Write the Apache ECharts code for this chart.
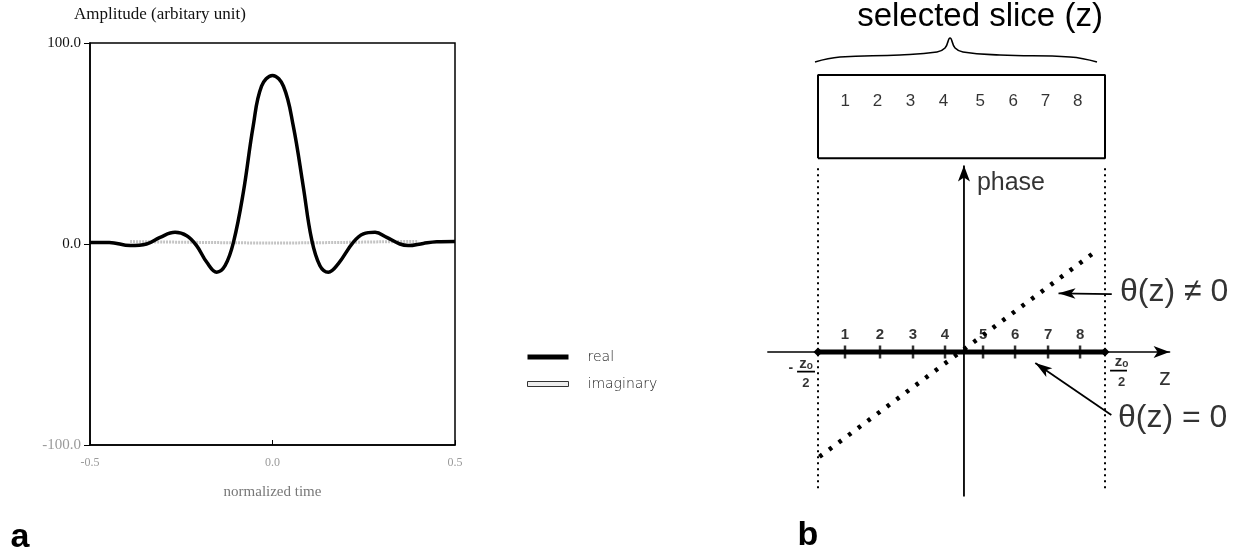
<!DOCTYPE html>
<html>
<head>
<meta charset="utf-8">
<script src="https://cdn.jsdelivr.net/npm/echarts@6/dist/echarts.min.js"></script>
<style>
html, body { margin: 0; padding: 0; background: #fff; }
#container { width: 1242px; height: 559px; }
</style>
</head>
<body>
<div id="container"></div>
<script>
var dom = document.getElementById("container");
var myChart = echarts.init(dom);

// ---- panel a : amplitude vs normalized time ----
var realTime = [-0.5, -0.447, -0.39, -0.345, -0.308, -0.267, -0.235, -0.208, -0.18, -0.153, -0.13, -0.107,
    -0.08, -0.053, -0.03, 0, 0.03, 0.057, 0.084, 0.107, 0.13, 0.153, 0.18, 0.221, 0.249, 0.281, 0.313,
    0.349, 0.372, 0.413, 0.45, 0.5];
var realAmp = [0.8, 0.8, -0.8, 0, 3.3, 5.8, 4.1, -0.8, -9.1, -14, -10.8, 0.8,
    25.6, 58.6, 78.5, 83.8, 78.5, 58.6, 28.9, 2.5, -10.8, -14, -9.9, 0.8, 5, 5.8, 3.3,
    0, -0.8, 0.3, 1.1, 1.3];
var imagTime = [-0.39, -0.3, -0.2, -0.1, 0, 0.1, 0.2, 0.3, 0.4];
var imagAmp = [1.2, 1.0, 0.8, 0.6, 0.5, 0.6, 0.8, 1.1, 1.3];

// ---- panel b : slice phase diagram (z in units of z0/2) ----
var sliceNums = [1, 2, 3, 4, 5, 6, 7, 8];
var sliceNumZ = [-0.81, -0.585, -0.355, -0.125, 0.13, 0.36, 0.585, 0.81];
var tickZ = [-0.812, -0.568, -0.338, -0.115, 0.15, 0.373, 0.603, 0.826];
var sliceEdges = [-1, 1];
var boxTheta = [1.35, 1.93];
var rampZ = [-0.99, 0.92];
var rampTheta = [-0.73, 0.69];
var braceZ = [-1.021, -0.847, -0.429, -0.171, -0.115, -0.08, -0.045, 0.01, 0.268, 0.756, 0.944];
var braceY = [2.021, 2.056, 2.07, 2.091, 2.118, 2.188, 2.118, 2.091, 2.07, 2.056, 2.021];

function pairs(xs, ys) {
    return xs.map(function (x, i) { return [x, ys[i]]; });
}

var serif = '"Liberation Serif", "DejaVu Serif", serif';
var sans = '"Liberation Sans", Arial, sans-serif';

function arrowLine(from, to, head, width) {
    var ang = Math.atan2(to[1] - from[1], to[0] - from[0]) * 180 / Math.PI;
    return {
        type: 'line', xAxisIndex: 1, yAxisIndex: 1, silent: true,
        symbol: 'none', showSymbol: true,
        lineStyle: { color: '#000', width: width || 1.8 },
        itemStyle: { color: '#000' },
        data: [
            { value: from, symbol: 'none' },
            { value: to, symbol: 'arrow', symbolSize: head, symbolRotate: ang - 90 }
        ]
    };
}

function segment(pts, style) {
    return {
        type: 'line', xAxisIndex: 1, yAxisIndex: 1, silent: true,
        symbol: 'none', lineStyle: style, data: pts
    };
}

function notes(items) {
    return {
        type: 'scatter', xAxisIndex: 1, yAxisIndex: 1, silent: true,
        symbolSize: 1, itemStyle: { color: 'rgba(0,0,0,0)' },
        data: items.map(function (n) {
            return {
                value: n.at,
                label: {
                    show: true, position: 'inside', formatter: n.text,
                    align: n.align || 'center', verticalAlign: 'middle',
                    fontSize: n.size, fontWeight: n.bold ? 'bold' : 'normal',
                    fontFamily: sans, color: '#000'
                }
            };
        })
    };
}

var faint = '#9a9a9a';

var option = {
    animation: false,
    backgroundColor: '#fff',
    graphic: [
        { type: 'text', x: 980, y: 17, style: { text: 'selected slice (z)', font: '33px ' + sans, fill: '#000', align: 'center', verticalAlign: 'middle' } },
        { type: 'text', x: 20, y: 538, style: { text: 'a', font: 'bold 34px ' + sans, fill: '#000', align: 'center', verticalAlign: 'middle' } },
        { type: 'text', x: 808, y: 536, style: { text: 'b', font: 'bold 34px ' + sans, fill: '#000', align: 'center', verticalAlign: 'middle' } }
    ],
    legend: {
        data: [
            { name: 'real', icon: 'rect', itemStyle: { color: '#000', borderWidth: 0 } },
            { name: 'imaginary', icon: 'rect', itemStyle: { color: '#eeeeee', borderColor: '#333', borderWidth: 1 } }
        ],
        orient: 'vertical', left: 522, top: 345,
        itemWidth: 41, itemHeight: 5, itemGap: 13,
        textStyle: { fontFamily: '"DejaVu Sans", sans-serif', fontWeight: 300, fontSize: 14, color: '#222', padding: [0, 0, 0, 14] }
    },
    grid: [
        { left: 90, top: 43, width: 365, height: 402, show: true, borderColor: '#000', borderWidth: 1.5 },
        { left: 767.8, top: 7.6, width: 401.8, height: 487.9 }
    ],
    xAxis: [
        {
            gridIndex: 0, type: 'value', min: -0.5, max: 0.5, interval: 0.5,
            name: 'normalized time', nameLocation: 'middle', nameGap: 40,
            nameTextStyle: { fontFamily: serif, fontSize: 15, color: '#777' },
            axisLine: { onZero: false, lineStyle: { color: '#000', width: 1.5 } },
            axisTick: { inside: true, length: 5, lineStyle: { color: '#000' } },
            axisLabel: {
                margin: 12, fontFamily: serif, fontSize: 12, color: faint,
                formatter: function (v) { return v.toFixed(1); }
            },
            splitLine: { show: false }
        },
        {
            gridIndex: 1, type: 'value', min: -1.35, max: 1.45,
            axisLine: { onZero: true, symbol: ['none', 'arrow'], symbolSize: [9, 16], lineStyle: { color: '#000', width: 1.5 } },
            axisTick: { show: false }, axisLabel: { show: false }, splitLine: { show: false }
        }
    ],
    yAxis: [
        {
            gridIndex: 0, type: 'value', min: -100, max: 100, interval: 100,
            name: 'Amplitude (arbitary unit)', nameLocation: 'end', nameGap: 20,
            nameTextStyle: { fontFamily: serif, fontSize: 17, color: '#111', align: 'center', padding: [0, 0, 0, 140] },
            axisLine: { onZero: false, lineStyle: { color: '#000', width: 1.5 } },
            axisTick: { length: 6, lineStyle: { color: '#000' } },
            axisLabel: {
                margin: 9, fontFamily: serif, fontSize: 15,
                color: function (v) { return v < 0 ? faint : '#111'; },
                formatter: function (v) { return v.toFixed(1); }
            },
            splitLine: { show: false }
        },
        { gridIndex: 1, type: 'value', min: -1, max: 2.4, show: false, splitLine: { show: false } }
    ],
    series: [
        {
            name: 'imaginary', type: 'line', xAxisIndex: 0, yAxisIndex: 0,
            symbol: 'none', smooth: 0.3, z: 1,
            lineStyle: { color: '#c4c4c4', width: 3, type: [2, 1] },
            itemStyle: { color: '#eeeeee' },
            data: pairs(imagTime, imagAmp)
        },
        {
            name: 'real', type: 'line', xAxisIndex: 0, yAxisIndex: 0,
            symbol: 'none', smooth: 0.4, z: 3,
            lineStyle: { color: '#000', width: 3.5 },
            itemStyle: { color: '#000' },
            data: pairs(realTime, realAmp)
        },

        // panel b
        segment([[sliceEdges[0], boxTheta[0]], [sliceEdges[1], boxTheta[0]], [sliceEdges[1], boxTheta[1]],
            [sliceEdges[0], boxTheta[1]], [sliceEdges[0], boxTheta[0]]], { color: '#000', width: 2 }),
        {
            type: 'line', xAxisIndex: 1, yAxisIndex: 1, silent: true, symbol: 'none', smooth: 0.45,
            lineStyle: { color: '#000', width: 1.6 }, data: pairs(braceZ, braceY)
        },
        segment([[sliceEdges[0], 1.28], [sliceEdges[0], -0.96]], { color: '#000', width: 2, type: [2, 4] }),
        segment([[sliceEdges[1], 1.28], [sliceEdges[1], -0.96]], { color: '#000', width: 2, type: [2, 4] }),
        {
            type: 'line', xAxisIndex: 1, yAxisIndex: 1, silent: true,
            symbol: 'diamond', symbolSize: 9, itemStyle: { color: '#000' },
            lineStyle: { color: '#000', width: 5 },
            data: [[sliceEdges[0], 0], [sliceEdges[1], 0]]
        },
        segment(pairs(rampZ, rampTheta), { color: '#000', width: 4.5, type: [3.5, 8.5] }),
        arrowLine([0.017, -1.01], [0.017, 1.3], [9, 16], 1.8),
        arrowLine([1.047, 0.404], [0.676, 0.409], [8, 17], 1.8),
        arrowLine([1.044, -0.439], [0.514, -0.077], [8, 17], 1.8),
        {
            type: 'scatter', xAxisIndex: 1, yAxisIndex: 1, silent: true,
            symbol: 'rect', symbolSize: [2.5, 13], itemStyle: { color: '#000' },
            label: {
                show: true, position: 'top', distance: 3, fontFamily: sans, fontSize: 15, fontWeight: 'bold', color: '#000',
                formatter: function (p) { return String(sliceNums[p.dataIndex]); }
            },
            data: tickZ.map(function (z) { return [z, 0]; })
        },
        {
            type: 'scatter', xAxisIndex: 1, yAxisIndex: 1, silent: true,
            symbolSize: 1, itemStyle: { color: 'rgba(0,0,0,0)' },
            label: {
                show: true, position: 'inside', fontFamily: sans, fontSize: 17, color: '#000',
                formatter: function (p) { return String(sliceNums[p.dataIndex]); }
            },
            data: sliceNumZ.map(function (z) { return [z, 1.749]; })
        },
        segment([[-1.146, -0.137], [-1.021, -0.137]], { color: '#000', width: 1.8 }),
        segment([[1.035, -0.13], [1.153, -0.13]], { color: '#000', width: 1.8 }),
        notes([
            { text: 'phase', at: [0.107, 1.175], size: 25, align: 'left' },
            { text: 'z', at: [1.418, -0.183], size: 24 },
            { text: 'θ(z) ≠ 0', at: [1.104, 0.42], size: 32, align: 'left' },
            { text: 'θ(z) = 0', at: [1.09, -0.46], size: 32, align: 'left' },
            { text: '-', at: [-1.19, -0.11], size: 14, bold: true },
            { text: 'zₒ', at: [-1.084, -0.085], size: 15, bold: true },
            { text: '2', at: [-1.084, -0.216], size: 13, bold: true },
            { text: 'zₒ', at: [1.116, -0.07], size: 15, bold: true },
            { text: '2', at: [1.116, -0.214], size: 13, bold: true }
        ])
    ]
};

myChart.setOption(option);
</script>
</body>
</html>
